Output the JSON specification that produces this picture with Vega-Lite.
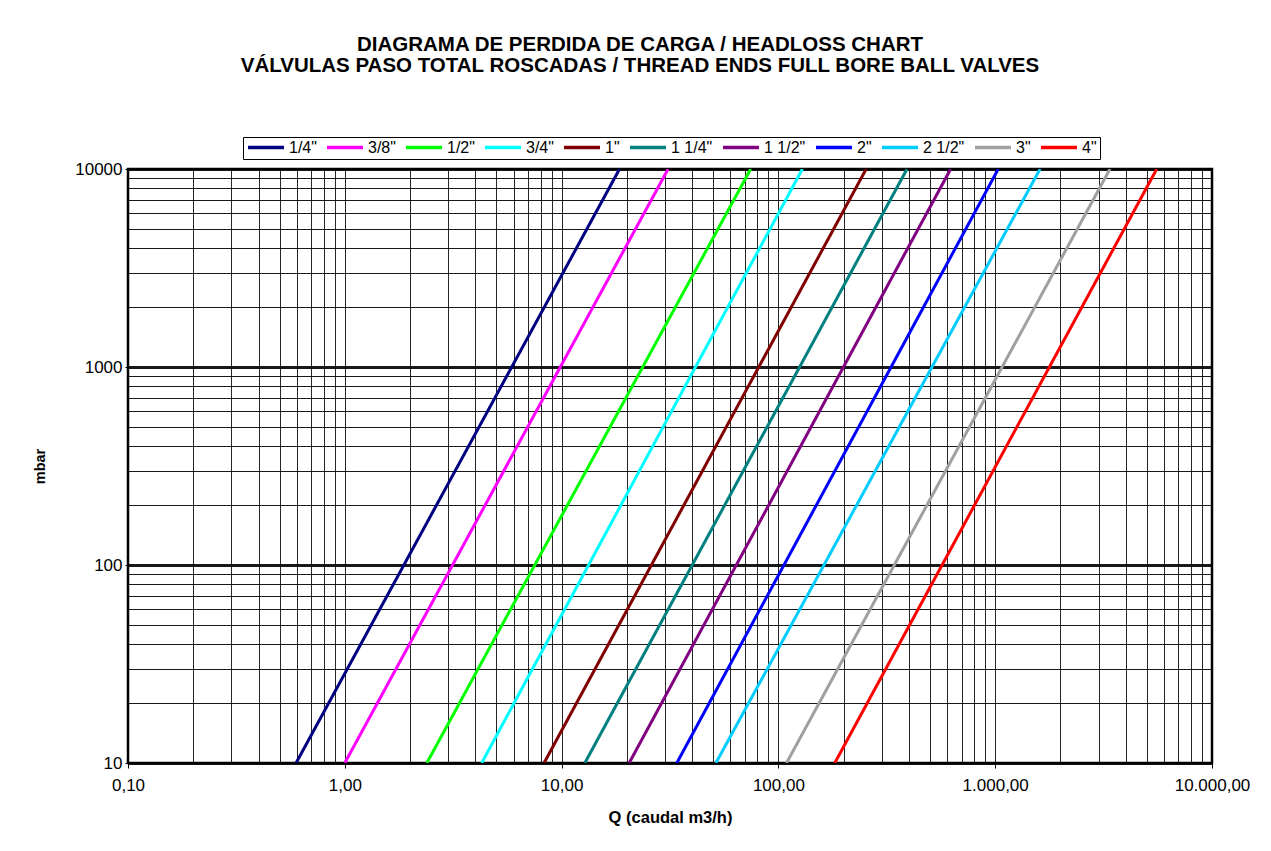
{
  "$schema": "https://vega.github.io/schema/vega-lite/v6.json",
  "width": 1084,
  "height": 594,
  "autosize": {"type": "none"},
  "padding": {"left": 128, "top": 169, "right": 59, "bottom": 88},
  "background": "white",
  "title": {
    "text": ["DIAGRAMA DE PERDIDA DE CARGA /  HEADLOSS CHART", "VÁLVULAS PASO TOTAL ROSCADAS / THREAD ENDS FULL BORE BALL VALVES"],
    "font": "Liberation Sans",
    "fontSize": 20.5,
    "fontWeight": "bold",
    "color": "black",
    "lineHeight": 21,
    "anchor": "middle",
    "dx": -30,
    "offset": 60
  },
  "config": {
    "view": {"stroke": "black", "strokeWidth": 2.5},
    "font": "Liberation Sans"
  },
  "data": {
    "values": [
      {"size": "1/4\"", "q": 0.596, "mbar": 10},
      {"size": "1/4\"", "q": 18.5, "mbar": 10000},
      {"size": "3/8\"", "q": 1.0, "mbar": 10},
      {"size": "3/8\"", "q": 31.0, "mbar": 10000},
      {"size": "1/2\"", "q": 2.39, "mbar": 10},
      {"size": "1/2\"", "q": 74.5, "mbar": 10000},
      {"size": "3/4\"", "q": 4.28, "mbar": 10},
      {"size": "3/4\"", "q": 129, "mbar": 10000},
      {"size": "1\"", "q": 8.3, "mbar": 10},
      {"size": "1\"", "q": 254, "mbar": 10000},
      {"size": "1 1/4\"", "q": 12.8, "mbar": 10},
      {"size": "1 1/4\"", "q": 392, "mbar": 10000},
      {"size": "1 1/2\"", "q": 20.5, "mbar": 10},
      {"size": "1 1/2\"", "q": 623, "mbar": 10000},
      {"size": "2\"", "q": 34.0, "mbar": 10},
      {"size": "2\"", "q": 1033, "mbar": 10000},
      {"size": "2 1/2\"", "q": 51.5, "mbar": 10},
      {"size": "2 1/2\"", "q": 1610, "mbar": 10000},
      {"size": "3\"", "q": 109, "mbar": 10},
      {"size": "3\"", "q": 3383, "mbar": 10000},
      {"size": "4\"", "q": 182, "mbar": 10},
      {"size": "4\"", "q": 5560, "mbar": 10000}
    ]
  },
  "mark": {"type": "line", "strokeWidth": 3, "clip": true},
  "encoding": {
    "x": {
      "field": "q",
      "type": "quantitative",
      "scale": {"type": "log", "domain": [0.1, 10000], "nice": false},
      "axis": {
        "title": "Q (caudal  m3/h)",
        "titleFont": "Liberation Sans",
        "titleFontSize": 16.5,
        "titleFontWeight": "bold",
        "titleColor": "black",
        "titlePadding": 16,
        "values": [0.1,0.2,0.3,0.4,0.5,0.6,0.7,0.8,0.9,1,2,3,4,5,6,7,8,9,10,20,30,40,50,60,70,80,90,100,200,300,400,500,600,700,800,900,1000,2000,3000,4000,5000,6000,7000,8000,9000,10000],
        "labelExpr": "abs(log(datum.value)/LN10 - round(log(datum.value)/LN10)) < 0.001 ? replace(replace(replace(format(datum.value, ',.2f'), ',', '_'), '.', ','), '_', '.') : ''",
        "labelFont": "Liberation Sans",
        "labelFontSize": 17,
        "labelColor": "black",
        "labelPadding": 9,
        "labelFlush": false,
        "labelOverlap": false,
        "grid": true,
        "gridColor": "black",
        "gridWidth": 1,
        "gridOpacity": 0.85,
        "domain": false,
        "ticks": true,
        "tickSize": 5,
        "tickColor": "black",
        "tickOpacity": {"condition": {"test": "abs(log(datum.value)/LN10 - round(log(datum.value)/LN10)) < 0.001", "value": 1}, "value": 0}
      }
    },
    "y": {
      "field": "mbar",
      "type": "quantitative",
      "scale": {"type": "log", "domain": [10, 10000], "nice": false},
      "axis": {
        "title": "mbar",
        "titleFont": "Liberation Sans",
        "titleFontSize": 14.5,
        "titleFontWeight": "bold",
        "titleColor": "black",
        "titlePadding": 27,
        "values": [10,20,30,40,50,60,70,80,90,100,200,300,400,500,600,700,800,900,1000,2000,3000,4000,5000,6000,7000,8000,9000,10000],
        "labelExpr": "abs(log(datum.value)/LN10 - round(log(datum.value)/LN10)) < 0.001 ? format(datum.value, 'd') : ''",
        "labelFont": "Liberation Sans",
        "labelFontSize": 17,
        "labelColor": "black",
        "labelPadding": 3,
        "labelFlush": false,
        "labelOverlap": false,
        "grid": true,
        "gridColor": "black",
        "gridOpacity": 0.9,
        "gridWidth": {"condition": {"test": "abs(log(datum.value)/LN10 - round(log(datum.value)/LN10)) < 0.001", "value": 3}, "value": 1},
        "domain": false,
        "ticks": true,
        "tickSize": 3,
        "tickColor": "black",
        "tickOpacity": {"condition": {"test": "abs(log(datum.value)/LN10 - round(log(datum.value)/LN10)) < 0.001", "value": 1}, "value": 0}
      }
    },
    "color": {
      "field": "size",
      "type": "nominal",
      "scale": {
        "domain": ["1/4\"", "3/8\"", "1/2\"", "3/4\"", "1\"", "1 1/4\"", "1 1/2\"", "2\"", "2 1/2\"", "3\"", "4\""],
        "range": ["#000080", "#FF00FF", "#00FF00", "#00FFFF", "#800000", "#008080", "#800080", "#0000FF", "#00CCFF", "#A0A0A0", "#FF0000"]
      },
      "legend": {
        "title": null,
        "orient": "none",
        "direction": "horizontal",
        "gridAlign": "none",
        "legendX": 115,
        "legendY": -32,
        "symbolType": "stroke",
        "symbolSize": 1296,
        "symbolStrokeWidth": 3.5,
        "clipHeight": 15,
        "labelFontSize": 16,
        "labelFont": "Liberation Sans",
        "labelColor": "black",
        "labelOffset": 3,
        "columnPadding": 8,
        "strokeColor": "black",
        "fillColor": "white",
        "padding": 3
      }
    }
  }
}
